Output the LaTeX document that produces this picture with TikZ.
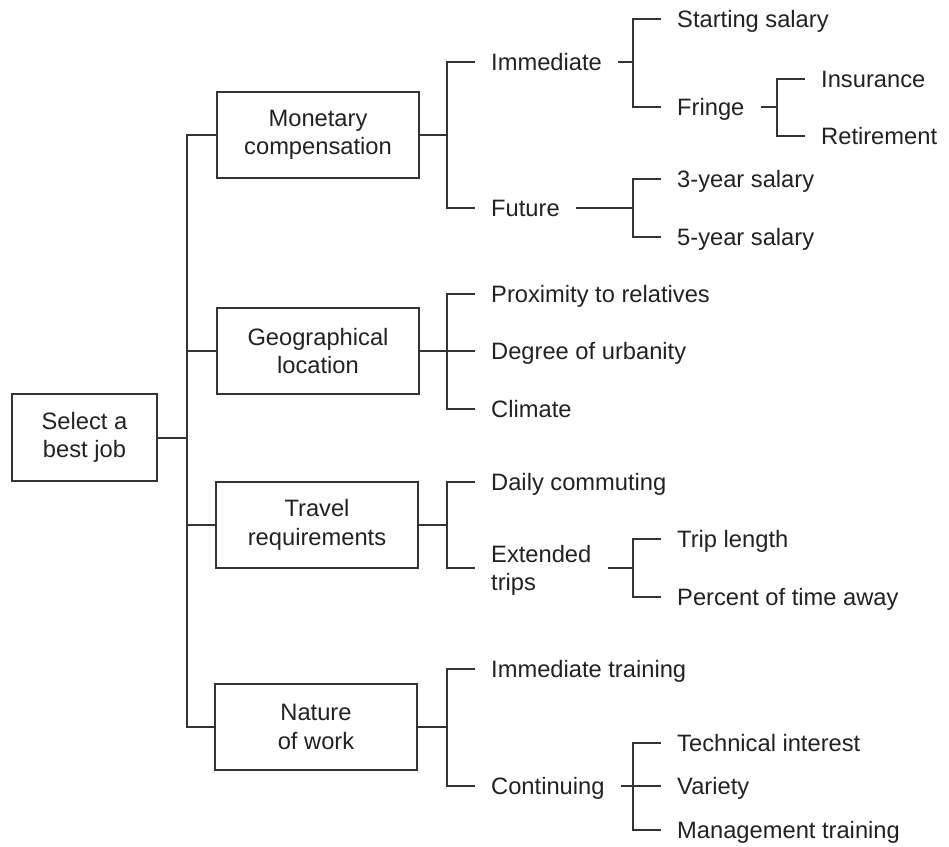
\documentclass[tikz,border=0pt]{standalone}
\usepackage{fontspec}
\setmainfont{Liberation Sans}
\definecolor{lc}{HTML}{333333}
\definecolor{tc}{HTML}{222222}
\newcommand\dfs{\fontsize{23.7}{28.5}\selectfont}
\begin{document}
\begin{tikzpicture}[x=1pt,y=-1pt,
  box/.style={draw=lc, line width=2pt, minimum width=202pt, minimum height=86pt,
    align=center, inner sep=0pt, text=tc, font=\dfs},
  leaf/.style={anchor=west, inner xsep=16pt, inner ysep=0pt, text height=17pt,
    text depth=0pt, text=tc, font=\dfs},
  conn/.style={draw=lc, line width=2pt, line join=miter}]
\fill[white] (0,0) rectangle (949,846);
\useasboundingbox (0,0) rectangle (949,846);

% bar positions
\coordinate (b1) at (187,0);
\coordinate (b2) at (447,0);
\coordinate (b3) at (633,0);
\coordinate (b4) at (777,0);

% boxes
\node[box, minimum width=145pt, minimum height=87pt] (root) at (84.5,437.5) {Select a\\best job};
\node[box] (mon) at (318,135) {Monetary\\compensation};
\node[box] (geo) at (318,351) {Geographical\\location};
\node[box] (tra) at (317,525) {Travel\\requirements};
\node[box] (nat) at (316,727) {Nature\\of work};

% level 2
\node[leaf] (imm) at (475,62) {Immediate};
\node[leaf] (fut) at (475,208) {Future};
\node[leaf] (prox) at (475,294) {Proximity to relatives};
\node[leaf] (deg) at (475,351) {Degree of urbanity};
\node[leaf] (cli) at (475,409) {Climate};
\node[leaf] (daily) at (475,482) {Daily commuting};
\node[leaf, align=left, text height=45.5pt, text depth=0pt] (ext) at (475,568) {Extended\\trips};
\node[leaf] (itr) at (475,669) {Immediate training};
\node[leaf] (cont) at (475,786) {Continuing};

% level 3
\node[leaf] (ss) at (661,19) {Starting salary};
\node[leaf] (fr) at (661,107) {Fringe};
\node[leaf] (y3) at (661,179) {3-year salary};
\node[leaf] (y5) at (661,237) {5-year salary};
\node[leaf] (tl) at (661,539) {Trip length};
\node[leaf] (pct) at (661,597) {Percent of time away};
\node[leaf] (tech) at (661,743) {Technical interest};
\node[leaf] (var) at (661,786) {Variety};
\node[leaf] (mgmt) at (661,830) {Management training};

% level 4
\node[leaf] (ins) at (805,79) {Insurance};
\node[leaf] (ret) at (805,136) {Retirement};

% trunk
\draw[conn] (root.east) -- (root.east -| b1);
\draw[conn] (mon.west) -- (mon.west -| b1) -- (nat.west -| b1) -- (nat.west);
\draw[conn] (geo.west -| b1) -- (geo.west);
\draw[conn] (tra.west -| b1) -- (tra.west);

% monetary
\draw[conn] (mon.east) -- (mon.east -| b2);
\draw[conn] (imm.west) -- (imm.west -| b2) -- (fut.west -| b2) -- (fut.west);
\draw[conn] (imm.east) -- (imm.east -| b3);
\draw[conn] (ss.west) -- (ss.west -| b3) -- (fr.west -| b3) -- (fr.west);
\draw[conn] (fr.east) -- (fr.east -| b4);
\draw[conn] (ins.west) -- (ins.west -| b4) -- (ret.west -| b4) -- (ret.west);
\draw[conn] (fut.east) -- (fut.east -| b3);
\draw[conn] (y3.west) -- (y3.west -| b3) -- (y5.west -| b3) -- (y5.west);

% geographical
\draw[conn] (geo.east) -- (geo.east -| b2);
\draw[conn] (prox.west) -- (prox.west -| b2) -- (cli.west -| b2) -- (cli.west);
\draw[conn] (deg.west -| b2) -- (deg.west);

% travel
\draw[conn] (tra.east) -- (tra.east -| b2);
\draw[conn] (daily.west) -- (daily.west -| b2) -- (ext.west -| b2) -- (ext.west);
\draw[conn] (ext.east) -- (ext.east -| b3);
\draw[conn] (tl.west) -- (tl.west -| b3) -- (pct.west -| b3) -- (pct.west);

% nature
\draw[conn] (nat.east) -- (nat.east -| b2);
\draw[conn] (itr.west) -- (itr.west -| b2) -- (cont.west -| b2) -- (cont.west);
\draw[conn] (cont.east) -- (var.west);
\draw[conn] (tech.west) -- (tech.west -| b3) -- (mgmt.west -| b3) -- (mgmt.west);
\end{tikzpicture}
\end{document}
